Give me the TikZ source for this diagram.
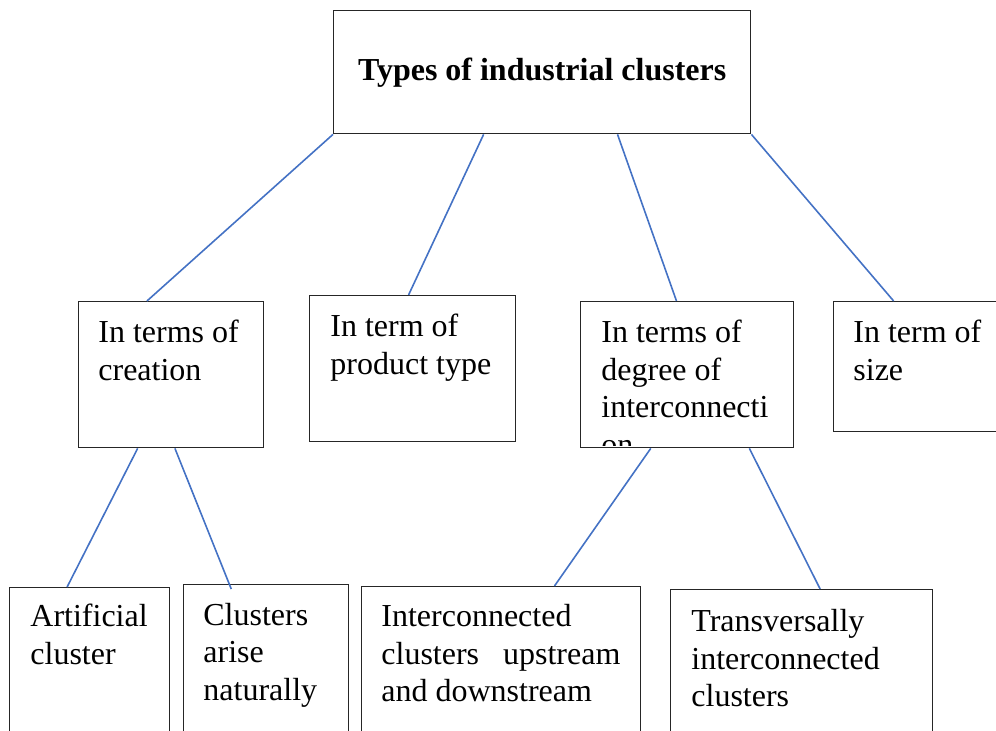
\documentclass[tikz,border=0pt]{standalone}
\usepackage{fontspec}
\setmainfont{Liberation Serif}
\usetikzlibrary{positioning,calc}
\definecolor{linkblue}{RGB}{68,114,196}

\begin{document}
\begin{tikzpicture}[
    x=0.5pt, y=-0.5pt,
    box/.style={rectangle, draw=black!85, line width=0.7pt, anchor=north west, inner sep=0pt},
    lbl/.style={anchor=base west, align=flush left, inner sep=0pt, text width=#1, font=\fontsize{16}{18.75}\selectfont},
    link/.style={draw=linkblue, line width=0.8pt}
]
\useasboundingbox (0,0) rectangle (996,731);
\clip (0,0) rectangle (996,731);

% Title
\node[box, minimum width=208.5pt, minimum height=61.5pt, font=\fontsize{16}{18.75}\selectfont\bfseries] (types) at (333,10) {Types of industrial clusters};

% Second level
\node[box, minimum width=92.5pt, minimum height=73pt] (creation) at (78,301) {};
\node[box, minimum width=103pt, minimum height=73pt] (product) at (309,295) {};
\node[box, minimum width=106.5pt, minimum height=73pt] (degree) at (580,301) {};
\node[box, minimum width=83.5pt, minimum height=65pt] (size) at (833,301) {};

\node[lbl=80pt] (creationtxt) at (98,343) {In terms of\\creation};
\node[lbl=90pt] (producttxt) at (330,337) {In term of\\product type};
\begin{scope}
    \clip (degree.north west) rectangle ($(degree.south east)+(0,-3)$);
    \node[lbl=95pt] (degreetxt) at (601,343) {In terms of\\degree of\\interconnecti\\on};
\end{scope}
\node[lbl=70pt] (sizetxt) at (853,343) {In term of\\size};

% Third level
\node[box, minimum width=80pt, minimum height=80pt] (artificial) at (9,587) {};
\node[box, minimum width=82.5pt, minimum height=80pt] (natural) at (183,584) {};
\node[box, minimum width=139.5pt, minimum height=80pt] (updown) at (361,586) {};
\node[box, minimum width=131pt, minimum height=80pt] (transv) at (670,589) {};

\node[lbl=70pt] (artificialtxt) at (30,627) {Artificial\\cluster};
\node[lbl=70pt] (naturaltxt) at (203,625) {Clusters\\arise\\naturally};
\node[lbl=119.5pt] (updowntxt) at (381,627) {Interconnected\\clusters\hfill upstream\\and downstream};
\node[lbl=110pt] (transvtxt) at (691,632) {Transversally\\interconnected\\clusters};

% Connectors
\draw[link] (types.south west) -- ($(creation.north west)!0.37!(creation.north east)$);
\draw[link] ($(types.south west)!0.36!(types.south east)$) -- ($(product.north west)!0.48!(product.north east)$);
\draw[link] ($(types.south west)!0.68!(types.south east)$) -- ($(degree.north west)!0.45!(degree.north east)$);
\draw[link] (types.south east) -- ($(size.north west)!0.36!(size.north east)$);

\draw[link] ($(creation.south west)!0.32!(creation.south east)$) -- ($(artificial.north west)!0.36!(artificial.north east)$);
\draw[link] ($(creation.south west)!0.52!(creation.south east)$) -- ($(natural.north west)!0.29!(natural.north east)+(0,5)$);
\draw[link] ($(degree.south west)!0.33!(degree.south east)$) -- ($(updown.north west)!0.69!(updown.north east)$);
\draw[link] ($(degree.south west)!0.79!(degree.south east)$) -- ($(transv.north west)!0.57!(transv.north east)$);

\end{tikzpicture}
\end{document}
